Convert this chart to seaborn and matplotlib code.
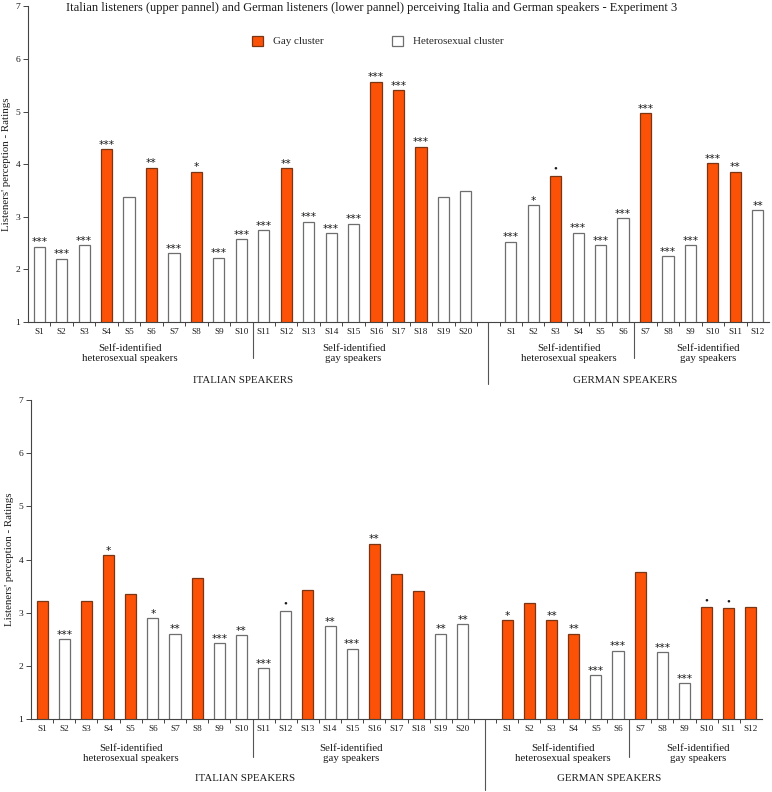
import matplotlib
matplotlib.use("Agg")
import matplotlib.pyplot as plt
import seaborn as sns
import pandas as pd
from matplotlib.transforms import blended_transform_factory

# ---------------- data ----------------
it_labels = ["S1", "S2", "S3", "S4", "S5", "S6", "S7", "S8", "S9", "S10",
             "S11", "S12", "S13", "S14", "S15", "S16", "S17", "S18", "S19", "S20"]
de_labels = ["S1", "S2", "S3", "S4", "S5", "S6", "S7", "S8", "S9", "S10", "S11", "S12"]

# upper panel: Italian listeners
top_it_values = [2.43, 2.20, 2.46, 4.28, 3.37, 3.93, 2.31, 3.86, 2.22, 2.58,
                 2.75, 3.92, 2.91, 2.69, 2.87, 5.57, 5.41, 4.33, 3.37, 3.50]
top_it_cluster = list("HHHGHGHGHHHGHHHGGGHH")
top_it_sig = ["***", "***", "***", "***", "", "**", "***", "*", "***", "***",
              "***", "**", "***", "***", "***", "***", "***", "***", "", ""]
top_de_values = [2.53, 3.22, 3.78, 2.70, 2.46, 2.97, 4.97, 2.25, 2.46, 4.02, 3.86, 3.12]
top_de_cluster = list("HHGHHHGHHGGH")
top_de_sig = ["***", "*", "\u2022", "***", "***", "***", "***", "***", "***", "***", "**", "**"]

# lower panel: German listeners
bot_it_values = [3.22, 2.50, 3.22, 4.08, 3.36, 2.90, 2.61, 3.65, 2.43, 2.58,
                 1.96, 3.04, 3.43, 2.75, 2.33, 4.30, 3.73, 3.41, 2.61, 2.79]
bot_it_cluster = list("GHGGGHHGHHHHGHHGGGHH")
bot_it_sig = ["", "***", "", "*", "", "*", "**", "", "***", "**",
              "***", "\u2022", "", "**", "***", "**", "", "", "**", "**"]
bot_de_values = [2.86, 3.18, 2.86, 2.61, 1.83, 2.29, 3.76, 2.26, 1.68, 3.11, 3.09, 3.11]
bot_de_cluster = list("GGGGHHGHHGGG")
bot_de_sig = ["*", "", "**", "**", "***", "***", "", "***", "***", "\u2022", "\u2022", ""]

cluster_names = {"G": "Gay cluster", "H": "Heterosexual cluster"}
group_text = ["Self-identified\nheterosexual speakers", "Self-identified\ngay speakers"]
title = ("Italian listeners (upper pannel) and German listeners (lower pannel) "
         "perceiving Italia and German speakers - Experiment 3")

ORANGE = "#FB5207"
ORANGE_EDGE = "#7a3515"
WHITE_EDGE = "#6e6e6e"
SPINE = "#444444"
TXT = "#1a1a1a"

# ---------------- style ----------------
sns.set_theme(style="white")
plt.rcParams["font.family"] = ["Liberation Serif", "DejaVu Serif"]

W, H = 772, 792
fig = plt.figure(figsize=(W / 100, H / 100), dpi=100)

order = ["IT" + l for l in it_labels] + ["gap"] + ["DE" + l for l in de_labels]
ticklabels = it_labels + [""] + de_labels


def px_axes(x0, x1, yb, yt):
    return fig.add_axes([x0 / W, 1 - yb / H, (x1 - x0) / W, (yb - yt) / H])


def draw_panel(ax, it_vals, it_cl, it_sig, de_vals, de_cl, de_sig, geom, legend):
    keys = ["IT" + l for l in it_labels] + ["DE" + l for l in de_labels]
    df = pd.DataFrame({
        "key": keys,
        "value": it_vals + de_vals,
        "cluster": [cluster_names[c] for c in it_cl + de_cl],
        "sig": it_sig + de_sig,
    })
    sns.barplot(data=df, x="key", y="value", hue="cluster", order=order,
                hue_order=["Gay cluster", "Heterosexual cluster"],
                palette={"Gay cluster": ORANGE, "Heterosexual cluster": "white"},
                dodge=False, width=0.5, ax=ax, legend=legend, linewidth=0.9,
                saturation=1)
    for cont, ec in zip(ax.containers, [ORANGE_EDGE, WHITE_EDGE]):
        for p in cont:
            p.set_edgecolor(ec)

    ax.set_ylim(1, 7)
    ax.set_xlim(-0.5, len(order) - 0.5)
    ax.set_xlabel("")
    ax.set_ylabel("Listeners' perception - Ratings", fontsize=7.8, labelpad=3, color=TXT)
    ax.set_xticks(range(len(order)))
    ax.set_xticklabels(ticklabels, fontsize=6.6, color=TXT)
    ax.set_xticks([i - 0.5 for i in range(1, len(order))], minor=True)
    ax.tick_params(axis="x", which="major", length=0, pad=4.3)
    ax.tick_params(axis="x", which="minor", length=3, width=0.7, color=SPINE, direction="out", bottom=True)
    ax.set_yticks([1, 2, 3, 4, 5, 6, 7])
    ax.tick_params(axis="y", length=3.5, width=0.7, color=SPINE, labelsize=6.8, pad=2,
                   left=True, labelcolor=TXT)
    for s in ["top", "right"]:
        ax.spines[s].set_visible(False)
    for s in ["left", "bottom"]:
        ax.spines[s].set_color(SPINE)
        ax.spines[s].set_linewidth(0.8)

    # significance markers
    for i, row in df.iterrows():
        if row["sig"]:
            if row["sig"] == "\u2022":
                ax.annotate(row["sig"], xy=(order.index(row["key"]), row["value"]),
                            xytext=(0, 2.8), textcoords="offset points",
                            ha="center", va="baseline", fontsize=7.8, color=TXT)
            else:
                ax.annotate(row["sig"], xy=(order.index(row["key"]), row["value"]),
                            xytext=(0, 1.0), textcoords="offset points",
                            ha="center", va="baseline", fontsize=7.6, color=TXT,
                            family="DejaVu Sans")

    tr = blended_transform_factory(ax.transData, ax.transAxes)
    sep_len, long_len, grp_off, spk_off, grp_x, spk_x = geom
    for xpos in (9.5, 26.5):
        ax.plot([xpos, xpos], [0, -sep_len], transform=tr, clip_on=False,
                color="#555555", lw=0.8)
    ax.plot([20, 20], [0, -long_len], transform=tr, clip_on=False, color="#555555", lw=0.8)
    for xpos, txt in zip(grp_x, group_text * 2):
        ax.annotate(txt, xy=(xpos, 0), xycoords=tr, xytext=(0, grp_off),
                    textcoords="offset points", ha="center", va="center",
                    fontsize=7.8, linespacing=1.15, color=TXT)
    for xpos, txt in zip(spk_x, ["ITALIAN SPEAKERS", "GERMAN SPEAKERS"]):
        ax.annotate(txt, xy=(xpos, 0), xycoords=tr, xytext=(0, spk_off),
                    textcoords="offset points", ha="center", va="center",
                    fontsize=7.8, color=TXT)


ax1 = px_axes(28, 769, 322, 6.4)
draw_panel(ax1, top_it_values, top_it_cluster, top_it_sig,
           top_de_values, top_de_cluster, top_de_sig,
           (36 / 315.6, 62 / 315.6, -22.6, -41.8,
            [4.05, 14.0, 23.6, 29.8], [9.08, 26.1]),
           legend=True)
sns.move_legend(ax1, "center", bbox_to_anchor=(0.472, 0.89), ncol=2, frameon=False,
                title=None, fontsize=7.9, handlelength=1.0, handleheight=1.0,
                handletextpad=0.9, columnspacing=6.3)
for h in ax1.get_legend().legend_handles:
    if h.get_facecolor()[0] > 0.99 and h.get_facecolor()[1] > 0.99:
        h.set_edgecolor(WHITE_EDGE)
    else:
        h.set_edgecolor(ORANGE_EDGE)

ax2 = px_axes(31, 762, 719.3, 400)
draw_panel(ax2, bot_it_values, bot_it_cluster, bot_it_sig,
           bot_de_values, bot_de_cluster, bot_de_sig,
           (37.7 / 319.3, 70.7 / 319.3, -24.6, -42.5,
            [4.0, 13.95, 23.5, 29.6], [9.15, 25.6]),
           legend=False)

fig.text(372 / W, 1 - 8 / H, title, ha="center", va="center", fontsize=9.0, color=TXT)

fig.savefig("out.png", dpi=100)
